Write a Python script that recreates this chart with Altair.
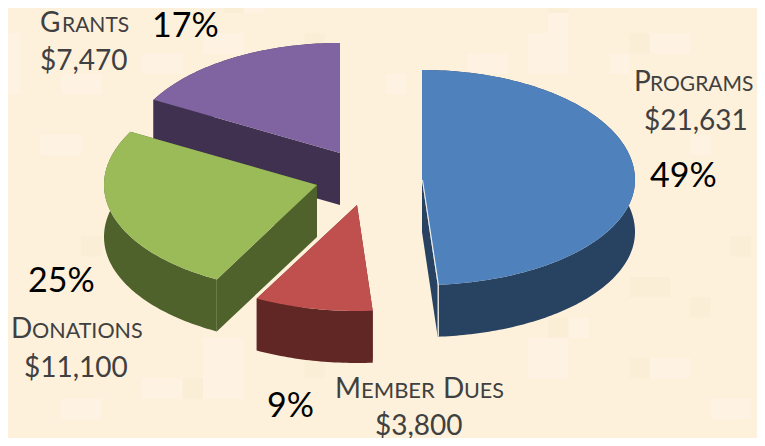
import math
import altair as alt
import pandas as pd

categories = ["Programs", "Member Dues", "Donations", "Grants"]
amounts = [21631, 3800, 11100, 7470]
tops = ["#4F81BD", "#C0504D", "#9BBB59", "#8064A2"]
walls = ["#284261", "#602725", "#4F622C", "#403151"]

# apex of each exploded slice, in page pixels
apex = [(422, 180), (357, 205), (317, 185), (340, 153)]
RX, DEPTH = 213, 52
RY_BACK = 110
RY_FRONT = [105, 106, 107, 110]
W, H = 749, 430
OFF = 8
# perspective nudge of the Programs / Member Dues boundary, in degrees
BOUNDARY_NUDGE = 1.2

bg = "#FDF1DC"
light_tiles = [(3,3),(4,3),(7,2),(8,2),(0,1),(0,2),(0,3),(12,-1),(10,1),(11,1),(2,6),(3,6),
               (26,1),(27,1),(26,2),(27,2),(27,0),(19,3),(23,2),(24,2),(32,1),(33,1),(30,2),(34,6),
               (26,16),(27,16),(26,17),(27,17),(28,15),(32,17),(33,17),(35,19),(36,19),
               (10,16),(11,16),(10,17),(11,17),(10,18),(11,18),(3,19),(4,19),(7,18),(8,18)]
dark_tiles = [(15,1),(11,-1),(27,-1),(31,1),(27,15),(31,17),(34,14),(31,13),(32,13),(36,11),(4,11),(9,18),(15,17)]
TILE = 20.3

# text pieces: (text, left x, baseline y, size, colour)
text_pieces = [
    ("G", 40, 32, 28, "#404040"), ("RANTS", 62, 32, 21, "#404040"),
    ("$7,470", 40, 70, 28, "#404040"), ("17%", 152, 37, 34, "#000000"),
    ("P", 634, 91, 28, "#404040"), ("ROGRAMS", 650, 91, 21, "#404040"),
    ("$21,631", 644, 130, 28, "#404040"), ("49%", 650, 187, 34, "#000000"),
    ("25%", 28, 292, 34, "#000000"),
    ("D", 11, 338, 28, "#404040"), ("ONATIONS", 32, 338, 21.5, "#404040"),
    ("$11,100", 24, 377, 28, "#404040"),
    ("9%", 267, 417, 34, "#000000"),
    ("M", 335, 398, 28, "#404040"), ("EMBER", 361, 398, 22, "#404040"),
    ("D", 443, 398, 28, "#404040"), ("UES", 464, 398, 21.5, "#404040"),
    ("$3,800", 375, 435, 28, "#404040"),
]

def feature(points, fill):
    ring = [[round(x - OFF, 2), round(y - OFF, 2)] for x, y in points]
    ring.append(ring[0])
    return {"type": "Feature", "properties": {"fill": fill},
            "geometry": {"type": "Polygon", "coordinates": [ring]}}

def rect(x0, y0, x1, y1, fill):
    return feature([(x0, y0), (x1, y0), (x1, y1), (x0, y1)], fill)

features = [feature([(OFF, OFF), (OFF + W, OFF), (OFF + W, OFF + H), (OFF, OFF + H)], bg)]
for fill, tiles in (("#FEF3E3", light_tiles), ("#FBEED7", dark_tiles)):
    for c, r in tiles:
        x0, y0 = c * TILE, 13 + r * TILE
        features.append(rect(max(x0, OFF), max(y0, OFF), min(x0 + TILE, OFF + W), min(y0 + TILE, OFF + H), fill))

total = sum(amounts)
spans, start = [], 0.0
for a in amounts:
    end = start + a / total * 360
    spans.append([start, end])
    start = end
spans[0][1] -= BOUNDARY_NUDGE
spans[1][0] -= BOUNDARY_NUDGE

def arc(i):
    a0, a1 = spans[i]
    cx, cy = apex[i]
    n = max(int(a1 - a0), 2)
    pts = []
    for k in range(n + 1):
        t = math.radians(a0 + (a1 - a0) * k / n)
        c = math.cos(t)
        pts.append((cx + RX * math.sin(t), cy - (RY_BACK if c > 0 else RY_FRONT[i]) * c))
    return pts

for i in [3, 2, 1, 0]:
    pts = arc(i)
    cx, cy = apex[i]
    down = lambda p: (p[0], p[1] + DEPTH)
    features.append(feature(pts + [down(p) for p in reversed(pts)], walls[i]))
    for e in (pts[0], pts[-1]):
        features.append(feature([(cx, cy), e, down(e), (cx, cy + DEPTH)], walls[i]))
    features.append(feature([(cx, cy)] + pts, tops[i]))
    if i == 0:
        e = pts[-1]
        features.append(feature([(cx, cy), e, down(e), (e[0] + 1.2, e[1] + DEPTH),
                                 (e[0] + 1.2, e[1]), (cx + 1, cy)], "#F4F1EA"))

shapes = alt.Chart(alt.InlineData(
    values={"type": "FeatureCollection", "features": features},
    format=alt.DataFormat(property="features", type="json"))
).mark_geoshape(strokeWidth=0).encode(
    fill=alt.Fill("properties.fill:N", scale=None)
).project(type="identity", scale=1, translate=[0, 0])

labels = pd.DataFrame(text_pieces, columns=["t", "x", "y", "s", "c"])
labels["x"] -= OFF
labels["y"] -= OFF
text = alt.Chart(labels).mark_text(font="Lato", align="left", baseline="alphabetic").encode(
    x=alt.X("x:Q", scale=None, axis=None),
    y=alt.Y("y:Q", scale=None, axis=None),
    text="t:N",
    size=alt.Size("s:Q", scale=None, legend=None),
    color=alt.Color("c:N", scale=None),
)

chart = alt.layer(shapes, text).properties(
    width=W, height=H, padding=0, background=bg,
    autosize=alt.AutoSizeParams(type="none")
).configure_view(stroke=None)

chart.save("out.html", embed_options={"renderer": "svg", "actions": False})
